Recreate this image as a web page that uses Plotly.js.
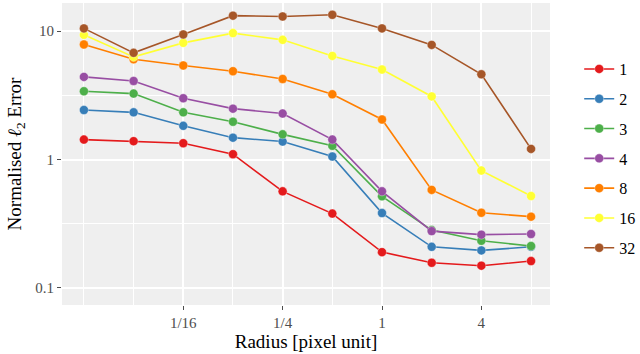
<!DOCTYPE html>
<html>
<head>
<meta charset="utf-8">
<script src="https://cdn.plot.ly/plotly-3.0.1.min.js"></script>
<style>
  body { margin: 0; background: #fff; }
  #chart { width: 640px; height: 354px; }
</style>
</head>
<body>
<div id="chart"></div>
<script>
// radius values (pixel unit), 1/64 .. 8
var radius = [1/64, 1/32, 1/16, 1/8, 1/4, 1/2, 1, 2, 4, 8];

var seriesNames = ['1', '2', '3', '4', '8', '16', '32'];
var seriesColors = ['#E41A1C', '#377EB8', '#4DAF4A', '#984EA3', '#FF7F00', '#FFFF33', '#A65628'];

var err1  = [1.43, 1.39, 1.34, 1.10, 0.565, 0.379, 0.190, 0.157, 0.149, 0.162];
var err2  = [2.43, 2.33, 1.83, 1.48, 1.38, 1.055, 0.383, 0.209, 0.196, 0.209];
var err3  = [3.40, 3.26, 2.33, 1.97, 1.57, 1.28, 0.517, 0.282, 0.233, 0.212];
var err4  = [4.40, 4.09, 3.00, 2.49, 2.28, 1.43, 0.565, 0.277, 0.260, 0.263];
var err8  = [7.87, 6.04, 5.40, 4.87, 4.24, 3.22, 2.05, 0.58, 0.385, 0.359];
var err16 = [9.36, 6.30, 8.10, 9.65, 8.55, 6.41, 5.02, 3.10, 0.82, 0.52];
var err32 = [10.5, 6.77, 9.42, 13.2, 13.0, 13.4, 10.5, 7.81, 4.61, 1.21];

var xTickVals = [1/16, 1/4, 1, 4];
var xTickText = ['1/16', '1/4', '1', '4'];
var xMinorVals = [1/64, 1/32, 1/8, 1/2, 2, 8];
var yTickVals = [0.1, 1, 10];
var yTickText = ['0.1', '1', '10'];
var yMinorVals = [0.0316, 0.316, 3.16];

var allErr = [err1, err2, err3, err4, err8, err16, err32];

var traces = allErr.map(function (ys, i) {
  return {
    x: radius,
    y: ys,
    name: seriesNames[i],
    legendgroup: 'g' + i,
    type: 'scatter',
    mode: 'lines+markers',
    line: { color: seriesColors[i], width: 1.6 },
    marker: {
      color: seriesColors[i], size: 9, symbol: 'circle',
      line: { color: 'rgba(255,255,255,0.35)', width: 1 }
    }
  };
});

var font = 'Liberation Serif';

Plotly.newPlot('chart', traces, {
  width: 640,
  height: 354,
  margin: { l: 62, r: 90, t: 3, b: 49 },
  paper_bgcolor: '#ffffff',
  plot_bgcolor: '#EFEFEF',
  font: { family: font, color: '#4d4d4d', size: 15 },
  showlegend: true,
  legend: {
    xref: 'container', yref: 'container',
    x: 0.905, xanchor: 'left', y: 0.853, yanchor: 'top',
    maxheight: 300,
    font: { family: font, size: 16, color: '#000' },
    tracegroupgap: 6,
    itemwidth: 30
  },
  xaxis: {
    type: 'log',
    range: [-1.939, 1.018],
    tickmode: 'array',
    tickvals: xTickVals,
    ticktext: xTickText,
    tickfont: { family: font, size: 15, color: '#4d4d4d' },
    ticks: 'outside', ticklen: 4, tickcolor: '#4d4d4d', tickwidth: 1,
    showgrid: true, gridcolor: '#ffffff', gridwidth: 1.6,
    minor: { tickmode: 'array', tickvals: xMinorVals, showgrid: true, gridcolor: '#ffffff', gridwidth: 0.8, ticks: '' },
    zeroline: false, showline: false,
    title: { text: 'Radius [pixel unit]', font: { family: font, size: 19, color: '#000' }, standoff: 4 }
  },
  yaxis: {
    type: 'log',
    range: [-1.133, 1.219],
    tickmode: 'array',
    tickvals: yTickVals,
    ticktext: yTickText,
    tickfont: { family: font, size: 15, color: '#4d4d4d' },
    ticks: 'outside', ticklen: 4, tickcolor: '#4d4d4d', tickwidth: 1,
    showgrid: true, gridcolor: '#ffffff', gridwidth: 1.6,
    minor: { tickmode: 'array', tickvals: yMinorVals, showgrid: true, gridcolor: '#ffffff', gridwidth: 0.8, ticks: '' },
    zeroline: false, showline: false,
    title: { text: 'Normalised <i>ℓ</i><sub>2</sub> Error', font: { family: font, size: 19, color: '#000' }, standoff: 8 }
  }
}, { displayModeBar: false });
</script>
</body>
</html>
